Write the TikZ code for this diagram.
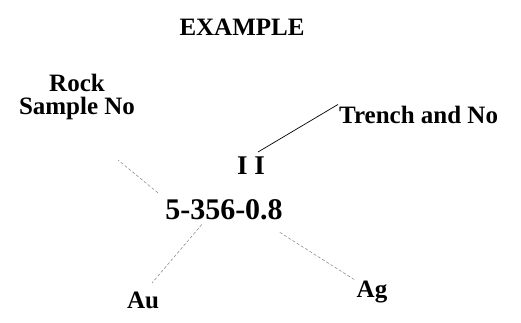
\documentclass[tikz,border=0pt]{standalone}
\usepackage{fontspec}
\setmainfont{Liberation Serif}
\usepackage{tikz}
\usetikzlibrary{calc}

\tikzset{
    lbl/.style={font=\bfseries\fontsize{25}{23}\selectfont, inner sep=1pt},
    link/.style={densely dashed, gray, line width=0.5pt}
}

\begin{document}
\begin{tikzpicture}[x=1pt,y=-1pt]
\useasboundingbox (0,0) rectangle (521,322);
\node[lbl, anchor=base] (title) at (242,35) {EXAMPLE};
\node[lbl, anchor=south, align=center] (rock) at (77,121.5) {Rock\\Sample No};
\node[lbl, anchor=base west] (trench) at (338,123) {Trench and No};
\node[lbl, anchor=base, font=\bfseries\fontsize{27}{27}\selectfont] (ii) at (251,174) {I I};
\node[lbl, anchor=base, font=\bfseries\fontsize{30}{30}\selectfont] (num) at (224,219) {5-356-0.8};
\node[lbl, anchor=base] (au) at (143,308) {Au};
\node[lbl, anchor=base] (ag) at (372,297) {Ag};
% free ends of the leaders
\coordinate (rockTip) at (118,160);
\coordinate (auTip) at (152,283);
\coordinate (agTip) at (355,280);
\coordinate (trenchTip) at (258,152);
\draw[line width=0.7pt] (trench.north west) -- (trenchTip);
\foreach \a/\t/\s in {north west/rockTip/8, -149/auTip/5, -17/agTip/22}
    \draw[link, shorten <=\s pt] (num.\a) -- (\t);
\end{tikzpicture}
\end{document}
